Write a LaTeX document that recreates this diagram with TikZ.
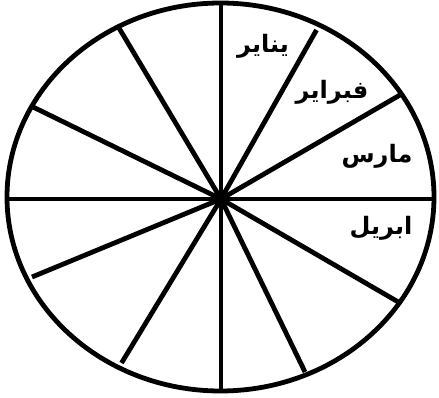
\documentclass[tikz,border=0pt]{standalone}
\usepackage{fontspec}
\newfontfamily\arabicfont[Script=Arabic]{DejaVu Sans}
\TeXXeTstate=1
\begin{document}
\begin{tikzpicture}[x=1pt,y=-1pt,
  rim/.style={line width=4.8pt,black},
  spoke/.style={line width=4.8pt,black},
  month/.style={font=\arabicfont\bfseries\fontsize{24}{26}\selectfont,inner sep=0pt}]
\useasboundingbox (0,0) rectangle (439,398);
\draw[rim] (220.5,197) ellipse [x radius=213.5, y radius=194];
\coordinate (hub) at (221,199);
\coordinate (e1) at (221,5);
\coordinate (e2) at (316.5,30);
\coordinate (e3) at (400,95);
\coordinate (e4) at (434,199);
\coordinate (e5) at (400,303);
\coordinate (e6) at (305,372);
\coordinate (e7) at (221,391);
\coordinate (e8) at (121.5,363);
\coordinate (e9) at (32,277);
\coordinate (e10) at (7,199);
\coordinate (e11) at (33,107);
\coordinate (e12) at (119,28);
\foreach \i in {1,...,12} \draw[spoke] (hub) -- (e\i);
\node[month] (jan) at (263,46) {\beginR يناير\endR};
\node[month] (feb) at (332,92) {\beginR فبراير\endR};
\node[month] (mar) at (377,156) {\beginR مارس\endR};
\node[month] (apr) at (381,228) {\beginR ابريل\endR};
\end{tikzpicture}
\end{document}
